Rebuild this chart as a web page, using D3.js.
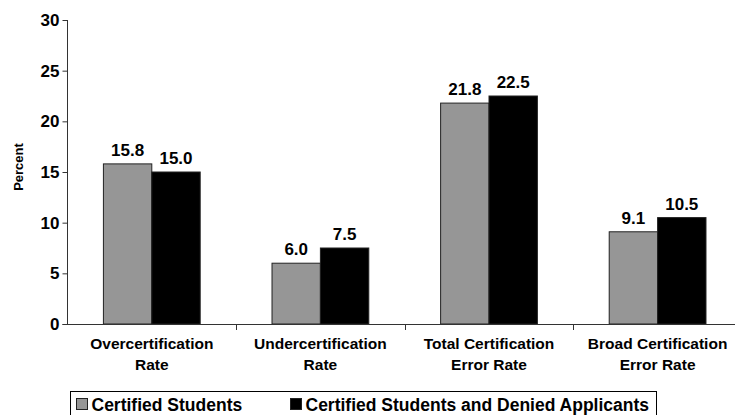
<!DOCTYPE html>
<html>
<head>
<meta charset="utf-8">
<script src="https://cdn.jsdelivr.net/npm/d3@7"></script>
<style>
  html, body { margin: 0; padding: 0; background: #fff; }
  svg { display: block; font-family: "Liberation Sans", Arial, sans-serif; font-weight: bold; }
</style>
</head>
<body>
<svg id="chart" width="735" height="415"></svg>
<script>
// Certification error rates, in percent
const categories = [
  ["Overcertification", "Rate"],
  ["Undercertification", "Rate"],
  ["Total Certification", "Error Rate"],
  ["Broad Certification", "Error Rate"]
];
const seriesNames = ["Certified Students", "Certified Students and Denied Applicants"];
const certifiedStudents = [15.8, 6.0, 21.8, 9.1];
const withDeniedApplicants = [15.0, 7.5, 22.5, 10.5];
const yTicks = [0, 5, 10, 15, 20, 25, 30];
const seriesColors = ["#969696", "#000000"];

const svg = d3.select("#chart");

const plot = { left: 67.5, top: 20, bottom: 324, step: 168.6 };

const x0 = d3.scaleBand()
  .domain(d3.range(categories.length))
  .range([plot.left, plot.left + plot.step * categories.length])
  .padding(0);

const x1 = d3.scaleBand()
  .domain(d3.range(seriesNames.length))
  .range([x0.bandwidth() * 0.213, x0.bandwidth() * 0.787])
  .padding(0);

const y = d3.scaleLinear().domain([0, 30]).range([plot.bottom, plot.top]);

const values = [certifiedStudents, withDeniedApplicants];

// Bars
const groups = svg.append("g")
  .selectAll("g")
  .data(categories.map((c, i) => i))
  .join("g")
  .attr("transform", i => `translate(${x0(i)},0)`);

groups.selectAll("rect")
  .data(i => values.map((s, k) => ({ k, v: s[i] })))
  .join("rect")
  .attr("x", d => x1(d.k))
  .attr("y", d => y(d.v))
  .attr("width", x1.bandwidth())
  .attr("height", d => y(0) - y(d.v))
  .attr("fill", d => seriesColors[d.k])
  .attr("stroke", "#222")
  .attr("stroke-width", 1);

// Value labels
groups.selectAll("text.value")
  .data(i => values.map((s, k) => ({ k, v: s[i] })))
  .join("text")
  .attr("class", "value")
  .attr("x", d => x1(d.k) + x1.bandwidth() / 2)
  .attr("y", d => y(d.v) - 8)
  .attr("text-anchor", "middle")
  .attr("font-size", 17)
  .attr("fill", "#000")
  .text(d => d.v.toFixed(1));

// Y axis
const yAxis = svg.append("g")
  .attr("transform", `translate(${plot.left},0)`)
  .call(d3.axisLeft(y).tickValues(yTicks).tickSize(5).tickPadding(3).tickFormat(d3.format("d")));
yAxis.select(".domain").attr("stroke", "#333").attr("d", `M0,${plot.top}V${plot.bottom}`);
yAxis.selectAll(".tick line").attr("stroke", "#333");
yAxis.selectAll(".tick text")
  .attr("font-size", 17)
  .attr("font-family", "Liberation Sans, Arial, sans-serif")
  .attr("font-weight", "bold")
  .attr("fill", "#000");

// X axis: baseline plus separators between categories
const xAxis = svg.append("g").attr("transform", `translate(0,${plot.bottom})`);
xAxis.append("line")
  .attr("x1", plot.left - 5).attr("x2", 735)
  .attr("y1", 0.5).attr("y2", 0.5)
  .attr("stroke", "#333");
xAxis.selectAll("line.sep")
  .data(d3.range(categories.length))
  .join("line")
  .attr("class", "sep")
  .attr("x1", i => Math.round(x0(i) + x0.bandwidth()) + 0.5)
  .attr("x2", i => Math.round(x0(i) + x0.bandwidth()) + 0.5)
  .attr("y1", 0).attr("y2", 6)
  .attr("stroke", "#333");

// Category labels (two lines)
const catLabels = svg.append("g")
  .selectAll("text")
  .data(categories)
  .join("text")
  .attr("text-anchor", "middle")
  .attr("font-size", 15.5)
  .attr("fill", "#000")
  .attr("transform", (d, i) => `translate(${x0(i) + x0.bandwidth() / 2},349)`);
catLabels.selectAll("tspan")
  .data(d => d)
  .join("tspan")
  .attr("x", 0)
  .attr("y", (d, j) => j * 21)
  .text(d => d);

// Y axis title
svg.append("text")
  .attr("transform", "translate(23,167) rotate(-90)")
  .attr("text-anchor", "middle")
  .attr("font-size", 13)
  .attr("fill", "#000")
  .text("Percent");

// Legend
const legend = svg.append("g").attr("transform", "translate(70.5,391.5)");
legend.append("rect")
  .attr("width", 586).attr("height", 32)
  .attr("fill", "#fff").attr("stroke", "#000");
const legendX = [6, 220];
const items = legend.selectAll("g.item")
  .data(seriesNames)
  .join("g")
  .attr("class", "item")
  .attr("transform", (d, i) => `translate(${legendX[i]},0)`);
items.append("rect")
  .attr("x", 0).attr("y", 7)
  .attr("width", 11).attr("height", 11)
  .attr("fill", (d, i) => seriesColors[i])
  .attr("stroke", "#222");
items.append("text")
  .attr("x", 15).attr("y", 19)
  .attr("font-size", 17.5)
  .attr("fill", "#000")
  .text(d => d);
</script>
</body>
</html>
